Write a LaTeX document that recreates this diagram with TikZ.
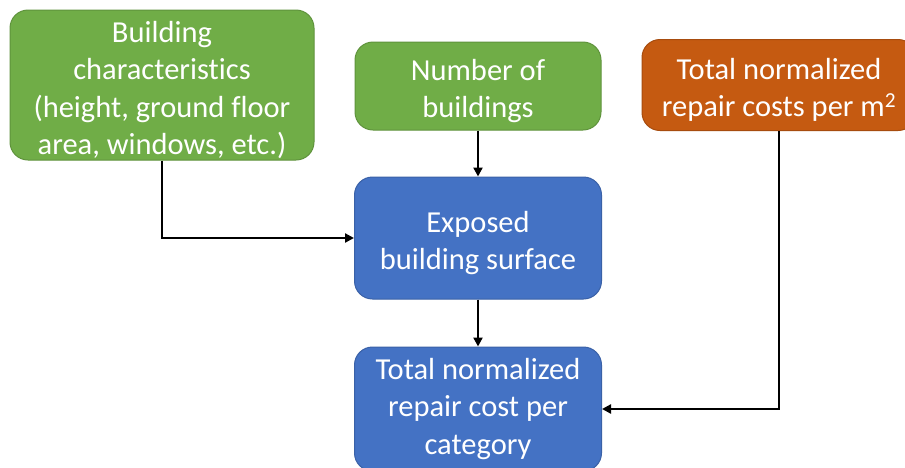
\documentclass[tikz,border=0pt]{standalone}
\usepackage{fontspec}
\setmainfont[Ligatures=NoCommon]{Carlito}
\usetikzlibrary{arrows.meta}
\definecolor{boxgreen}{HTML}{70AD47}
\definecolor{boxblue}{HTML}{4472C4}
\definecolor{boxorange}{HTML}{C55A11}
\newcommand{\topgap}{\rule{0pt}{31pt}}
\begin{document}
\begin{tikzpicture}[x=1pt,y=-1pt,
    box/.style = {rounded corners=18pt, text=white, align=center, inner sep=0pt,
        font=\fontsize{30.5}{37.5}\selectfont, line width=1pt},
    greenbox/.style = {box, fill=boxgreen, draw=boxgreen!85!black},
    bluebox/.style = {box, fill=boxblue, draw=boxblue!85!black},
    orangebox/.style = {box, fill=boxorange, draw=boxorange!85!black},
    link/.style = {line width=2.4pt, -{Triangle[length=9pt,width=9pt]}}]
    \useasboundingbox[fill=white] (0,0) rectangle (905,467);
    \node[greenbox, minimum width=304pt, minimum height=150pt] (chars) at (162,85)
        {\topgap Building\\characteristics\\(height, ground floor\\area, windows, etc.)};
    \node[greenbox, minimum width=246pt, minimum height=88pt] (number) at (478,86)
        {\topgap Number of\\buildings};
    \node[orangebox, minimum width=274pt, minimum height=91pt] (repair) at (779,85)
        {\topgap Total normalized\\repair costs per m\textsuperscript{2}};
    \node[bluebox, minimum width=247pt, minimum height=122pt] (surface) at (478,238)
        {\topgap Exposed\\building surface};
    \node[bluebox, minimum width=247pt, minimum height=124pt] (total) at (478,409)
        {Total normalized\\repair cost per\\category};
    \draw[link] (chars.south) |- (surface.west);
    \draw[link] (number) -- (surface);
    \draw[link] (surface) -- (total);
    \draw[link] (repair.south) |- (total.east);
\end{tikzpicture}
\end{document}
